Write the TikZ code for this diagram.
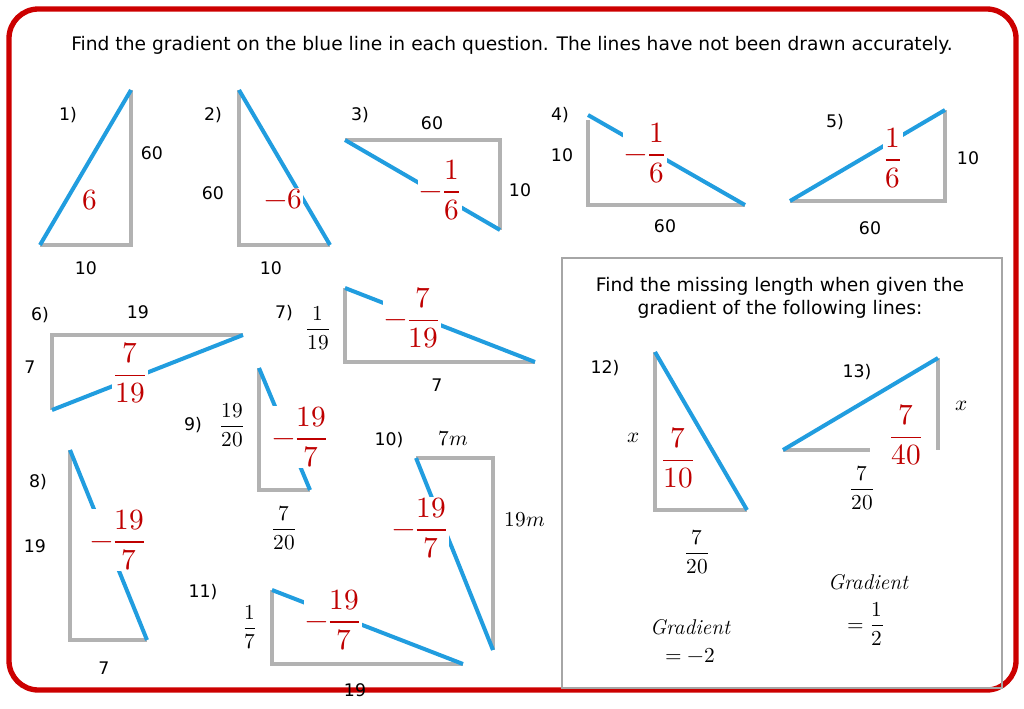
\documentclass[tikz,border=0pt]{standalone}
\usepackage{fontspec}
\setmainfont{DejaVu Sans}
\newfontfamily\lmit{Latin Modern Roman}
\usepackage{amsmath}
\usepackage{unicode-math}
\setmathfont{Latin Modern Math}
\begin{document}
\begin{tikzpicture}[x=0.75pt,y=-0.75pt,
  g/.style={draw=gray!60,line width=3pt},
  b/.style={draw=cyan!80!blue!90,line width=3pt},
  t/.style={font=\fontsize{14}{17}\selectfont},
  lb/.style={font=\fontsize{13}{15}\selectfont},
  rf/.style={text=red!75!black,font=\fontsize{22}{26}\selectfont,fill=white,inner sep=1pt},
  bf/.style={font=\fontsize{13}{15}\selectfont,inner sep=1pt},
  mf/.style={font=\fontsize{16}{18}\selectfont,inner sep=1pt}]
\useasboundingbox (0,0) rectangle (1024,709);
\draw[red!80!black,line width=4pt,rounded corners=22pt] (9,9) rectangle (1016,690);
\node[t] (title) at (512,45) {Find the gradient on the blue line in each question. The lines have not been drawn accurately.};
% 1
\node[lb] (q1) at (68,115) {1)};
\draw[g] (131,90) -- (131,245) -- (40,245);
\draw[b] (40,245) -- (131,90);
\node[bf] (a1) at (152,153) {60}; \node[bf] (b1) at (86,268) {10};
\node[rf] (r1) at (90,200) {$6$};
% 2
\node[lb] (q2) at (213,115) {2)};
\draw[g] (239,90) -- (239,245) -- (330,245);
\draw[b] (239,90) -- (330,245);
\node[bf] (a2) at (213,193) {60}; \node[bf] (b2) at (271,268) {10};
\node[rf] (r2) at (283,199) {$-6$};
% 3
\node[lb] (q3) at (360,115) {3)};
\draw[g] (345,140) -- (500,140) -- (500,230);
\draw[b] (345,140) -- (500,230);
\node[bf] (a3) at (432,123) {60}; \node[bf] (b3) at (520,190) {10};
\node[rf] (r3) at (440,190) {$-\dfrac{1}{6}$};
% 4
\node[lb] (q4) at (560,115) {4)};
\draw[g] (588,120) -- (588,205) -- (745,205);
\draw[b] (588,115) -- (745,205);
\node[bf] (a4) at (562,155) {10}; \node[bf] (b4) at (665,226) {60};
\node[rf] (r4) at (645,153) {$-\dfrac{1}{6}$};
% 5
\node[lb] (q5) at (835,122) {5)};
\draw[g] (790,201) -- (945,201) -- (945,110);
\draw[b] (790,201) -- (945,110);
\node[bf] (a5) at (968,158) {10}; \node[bf] (b5) at (870,228) {60};
\node[rf] (r5) at (893,158) {$\dfrac{1}{6}$};
% box
\draw[gray!70,line width=0.8pt] (562,258) rectangle (1002,688);
\node[t,align=center] (bt) at (780,298) {Find the missing length when given the\\gradient of the following lines:};
% 6
\node[lb] (q6) at (40,315) {6)};
\draw[g] (243,335) -- (52,335) -- (52,410);
\draw[b] (52,410) -- (243,335);
\node[bf] (a6) at (138,312) {19}; \node[bf] (b6) at (30,367) {7};
\node[rf] (r6) at (130,373) {$\dfrac{7}{19}$};
% 7
\node[lb] (q7) at (284,313) {7)};
\node[mf] (f7) at (318,328) {$\dfrac{1}{19}$};
\draw[g] (345,288) -- (345,362) -- (535,362);
\draw[b] (345,288) -- (535,362);
\node[bf] (b7) at (437,385) {7};
\node[rf] (r7) at (412,318) {$-\dfrac{7}{19}$};
% 8
\node[lb] (q8) at (38,482) {8)};
\draw[g] (70,450) -- (70,640) -- (147,640);
\draw[b] (70,450) -- (147,640);
\node[bf] (a8) at (35,546) {19}; \node[bf] (b8) at (104,668) {7};
\node[rf] (r8) at (118,540) {$-\dfrac{19}{7}$};
% 9
\node[lb] (q9) at (193,425) {9)};
\node[mf] (f9) at (232,425) {$\dfrac{19}{20}$};
\draw[g] (259,368) -- (259,490) -- (310,490);
\draw[b] (259,368) -- (310,490);
\node[mf] (b9) at (284,528) {$\dfrac{7}{20}$};
\node[rf] (r9) at (300,437) {$-\dfrac{19}{7}$};
% 10
\node[lb] (q10) at (389,440) {10)};
\node[mf] (a10) at (453,439) {$7m$};
\draw[g] (416,458) -- (493,458) -- (493,650);
\draw[b] (416,458) -- (493,650);
\node[mf] (b10) at (525,520) {$19m$};
\node[rf] (r10) at (420,528) {$-\dfrac{19}{7}$};
% 11
\node[lb] (q11) at (203,592) {11)};
\node[mf] (f11) at (250,627) {$\dfrac{1}{7}$};
\draw[g] (272,590) -- (272,664) -- (463,664);
\draw[b] (272,590) -- (463,664);
\node[bf] (b11) at (355,690) {19};
\node[rf] (r11) at (333,620) {$-\dfrac{19}{7}$};
% 12
\node[lb] (q12) at (605,368) {12)};
\draw[g] (655,352) -- (655,510) -- (747,510);
\draw[b] (655,352) -- (747,510);
\node[mf] (a12) at (634,438) {$x$};
\node[rf] (r12) at (678,458) {$\dfrac{7}{10}$};
\node[mf] (b12) at (697,552) {$\dfrac{7}{20}$};
\node[mf] (g12) at (690,627) {\lmit\itshape Gradient};
\node[mf] (e12) at (690,655) {$=-2$};
% 13
\node[lb] (q13) at (857,372) {13)};
\draw[g] (783,450) -- (870,450);
\draw[g] (938,358) -- (938,450);
\draw[b] (783,450) -- (938,358);
\node[mf] (a13) at (962,406) {$x$};
\node[rf] (r13) at (906,435) {$\dfrac{7}{40}$};
\node[mf] (b13) at (862,488) {$\dfrac{7}{20}$};
\node[mf] (g13) at (868,582) {\lmit\itshape Gradient};
\node[mf] (e13) at (866,624) {$=\dfrac{1}{2}$};
\end{tikzpicture}
\end{document}
